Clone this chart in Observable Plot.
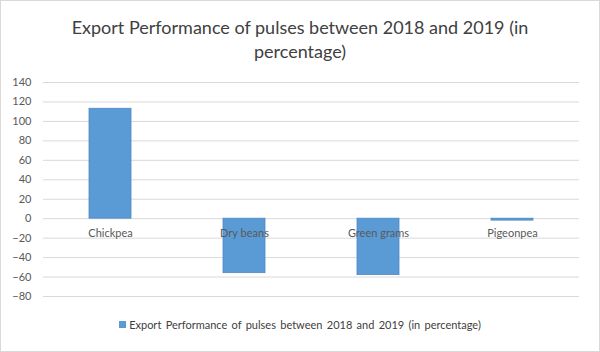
<!DOCTYPE html>
<html>
<head>
<meta charset="utf-8">
<script src="https://cdn.jsdelivr.net/npm/d3@7"></script>
<script src="https://cdn.jsdelivr.net/npm/@observablehq/plot@0.6"></script>
<style>
  html, body { margin: 0; padding: 0; background: #fff; }
  #frame { position: relative; width: 598px; height: 350px; border: 1px solid #d9d9d9; background: #fff; font-family: Lato, "Open Sans", sans-serif; overflow: hidden; }
  #title { position: absolute; left: 0; top: 14px; width: 598px; text-align: center; font-size: 18px; line-height: 24px; color: #404040; }
  #chart { position: absolute; left: 0; top: 69px; }
  #legend { position: absolute; left: 0; top: 317px; width: 598px; text-align: center; font-size: 11px; color: #404040; word-spacing: 1.5px; }
  #legend .sw { display: inline-block; width: 7px; height: 7px; background: #5b9bd5; margin-right: 3px; vertical-align: 1px; }
</style>
</head>
<body>
<div id="frame">
  <div id="title">Export Performance of pulses between 2018 and 2019 (in<br>percentage)</div>
  <div id="chart"></div>
  <div id="legend"><span class="sw"></span>Export Performance of pulses between 2018 and 2019 (in percentage)</div>
</div>
<script>
const categories = ["Chickpea", "Dry beans", "Green grams", "Pigeonpea"];
const values = [113, -56, -58, -2];
const yTicks = [-80, -60, -40, -20, 0, 20, 40, 60, 80, 100, 120, 140];
const seriesName = "Export Performance of pulses between 2018 and 2019 (in percentage)";

const data = categories.map((c, i) => ({category: c, value: values[i]}));

const plot = Plot.plot({
  width: 598,
  height: 240,
  marginTop: 12,
  marginBottom: 14,
  marginLeft: 42,
  marginRight: 20,
  style: {fontFamily: "Lato, 'Open Sans', sans-serif", fontSize: "11px", color: "#595959", background: "transparent"},
  x: {domain: categories, paddingInner: 0.69, paddingOuter: 0.345, axis: null},
  y: {domain: [-80, 140], axis: null},
  marks: [
    Plot.ruleY(yTicks, {stroke: "#d9d9d9", strokeWidth: 1}),
    Plot.barY(data, {x: "category", y: "value", fill: "#5b9bd5", stroke: "#4f88c6", strokeWidth: 0.8}),
    Plot.axisY({ticks: yTicks, tickSize: 0, tickPadding: 12, label: null, fill: "#595959", fontSize: 11}),
    Plot.text(data, {x: "category", y: () => 0, text: "category", dy: 15, fill: "#595959", fontSize: 11})
  ]
});
document.getElementById("chart").appendChild(plot);
</script>
</body>
</html>
